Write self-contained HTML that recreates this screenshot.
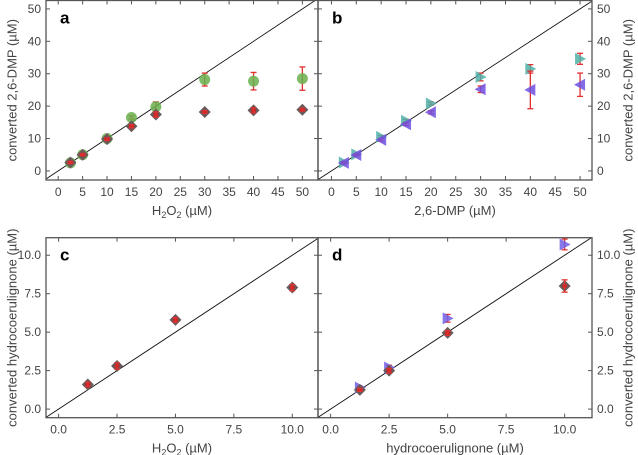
<!DOCTYPE html>
<html><head><meta charset="utf-8"><style>
body{margin:0;background:#fff}
svg{display:block;font-family:"Liberation Sans",sans-serif}
</style></head><body>
<svg id="c" width="638" height="455" viewBox="0 0 638 455"></svg>
<script>
const aX=[2.5,5,10,15,20,30,40,50];
const aGreen=[2.5,5,10,16.5,19.8,28.2,27.7,28.5];
const aGreenErr=[0.3,0.3,0.4,0.5,1.5,2,2.7,3.6];
const aDiamond=[2.6,5,9.8,13.8,17.4,18.2,18.7,18.9];
const aDiamondErr=[0.3,0.3,0.4,0.5,0.8,0.4,0.8,0.4];
const bX=[2.5,5,10,15,20,30,40,50];
const bTeal=[2.6,5.1,10.5,15.5,20.8,29,31.5,34.6];
const bTealErr=[0.3,0.3,0.4,0.4,0.5,1.2,1.3,1.7];
const bPurple=[2.5,4.9,9.6,14.4,18.1,25.2,25,26.6];
const bPurpleErr=[0.3,0.3,0.4,0.4,0.5,1,5.8,3.6];
const cX=[1.25,2.5,5,10];
const cDiamond=[1.6,2.8,5.8,7.9];
const cDiamondErr=[0.15,0.2,0.15,0.2];
const dX=[1.25,2.5,5,10];
const dDiamond=[1.25,2.5,4.95,8.0];
const dDiamondErr=[0.1,0.15,0.15,0.4];
const dPurple=[1.4,2.7,5.9,10.7];
const dPurpleErr=[0.1,0.15,0.25,0.35];
const ticks50=[0,5,10,15,20,25,30,35,40,45,50];
const ticksY50=[0,10,20,30,40,50];
const ticks10=[0,2.5,5,7.5,10];
const ticks10Lab=["0.0","2.5","5.0","7.5","10.0"];

const svg=document.getElementById('c');
const NS='http://www.w3.org/2000/svg';
function el(tag,attrs,parent){const e=document.createElementNS(NS,tag);for(const k in attrs)e.setAttribute(k,attrs[k]);(parent||svg).appendChild(e);return e;}

function panel(name,L,R,T,B,xd,yd,xt,xtl,yt,ytl,side,letter,xtitle,ytitle){
  const g=el('g',{});
  
  
  const sx=v=>L+(v-xd[0])/(xd[1]-xd[0])*(R-L);
  const sy=v=>B-(v-yd[0])/(yd[1]-yd[0])*(B-T);
  const lo=Math.max(xd[0],yd[0]),hi=Math.min(xd[1],yd[1]);
  const dl=el('line',{x1:sx(lo),y1:sy(lo),x2:sx(hi),y2:sy(hi),stroke:'#111','stroke-width':0.9},g);
  
  
  const fr=el('rect',{x:L,y:T,width:R-L,height:B-T,fill:'none',stroke:'#555','stroke-width':1.3},g);
  
  
  xt.forEach((v,i)=>{
    el('line',{x1:sx(v),x2:sx(v),y1:B,y2:B-4,stroke:'#555'},g);
    el('line',{x1:sx(v),x2:sx(v),y1:T,y2:T+4,stroke:'#555'},g);
    const t=el('text',{x:sx(v),y:B+16,'text-anchor':'middle','font-size':12,fill:'#444'},g);
    t.textContent=xtl[i];
    
    
  });
  yt.forEach((v,i)=>{
    el('line',{x1:L,x2:L+4,y1:sy(v),y2:sy(v),stroke:'#555'},g);
    el('line',{x1:R,x2:R-4,y1:sy(v),y2:sy(v),stroke:'#555'},g);
    if(side==='left'){
      const t=el('text',{x:L-5,y:sy(v)+4,'text-anchor':'end','font-size':12,fill:'#444'},g);
      t.textContent=ytl[i];
      
      
    }else{
      const t=el('text',{x:R+5,y:sy(v)+4,'text-anchor':'start','font-size':12,fill:'#444'},g);
      t.textContent=ytl[i];
      
      
    }
  });
  const lt=el('text',{x:L+14,y:T+23,'font-size':17,'font-weight':'bold',fill:'#000'},g);
  lt.textContent=letter;
  
  
  const xtt=el('text',{x:(L+R)/2,y:B+35,'text-anchor':'middle','font-size':13,fill:'#444'},g);
  xtt.innerHTML=xtitle;
  
  
  const yx=side==='left'?12:628;
  const ytt=el('text',{x:yx,y:(T+B)/2,'text-anchor':'middle','font-size':13,fill:'#444',transform:`rotate(-90 ${yx} ${(T+B)/2})`,'dominant-baseline':'central'},g);
  ytt.textContent=ytitle;
  
  
  return {g,sx,sy};
}
function err(p,x,y,e){
  const X=p.sx(x),y1=p.sy(y-e),y2=p.sy(y+e);
  const g=el('g',{stroke:'#e03030','stroke-width':1.3},p.g);
  
  
  el('line',{x1:X,x2:X,y1:y1,y2:y2},g);
  el('line',{x1:X-3,x2:X+3,y1:y1,y2:y1},g);
  el('line',{x1:X-3,x2:X+3,y1:y2,y2:y2},g);
}
function mark(p,type,x,y){
  const X=p.sx(x),Y=p.sy(y);let m;
  if(type==='circle')m=el('circle',{cx:X,cy:Y,r:5.5,fill:'#6ab04c',opacity:0.85},p.g);
  if(type==='diamond'){m=el('polygon',{points:`${X},${Y-6} ${X+6},${Y} ${X},${Y+6} ${X-6},${Y}`,fill:'#6a5a5a'},p.g);
    el('ellipse',{cx:X,cy:Y,rx:2.5,ry:2,fill:'#d42020'},p.g);}
  if(type==='right')m=el('polygon',{points:`${X-5},${Y-6} ${X+6},${Y} ${X-5},${Y+6}`,fill:'#50b0a8',opacity:0.85},p.g);
  if(type==='rightp')m=el('polygon',{points:`${X-5},${Y-6} ${X+6},${Y} ${X-5},${Y+6}`,fill:'#7060e8',opacity:0.85},p.g);
  if(type==='left')m=el('polygon',{points:`${X+5},${Y-6} ${X-6},${Y} ${X+5},${Y+6}`,fill:'#7050e0',opacity:0.85},p.g);
  
  
}
const h2o='H<tspan font-size="9" dy="3">2</tspan><tspan dy="-3">O</tspan><tspan font-size="9" dy="3">2</tspan><tspan dy="-3"> (µM)</tspan>';
const pa=panel('a',46,318,0.5,180,[-2.5,53.2],[-2.8,52.6],ticks50,ticks50.map(String),ticksY50,ticksY50.map(String),'left','a',h2o,'converted 2,6-DMP (µM)');
aX.forEach((x,i)=>{err(pa,x,aGreen[i],aGreenErr[i]);mark(pa,'circle',x,aGreen[i]);});
aX.forEach((x,i)=>{mark(pa,'diamond',x,aDiamond[i]);err(pa,x,aDiamond[i],aDiamondErr[i]);});
const pb=panel('b',318,592,0.5,180,[-2.7,52.4],[-2.8,52.6],ticks50,ticks50.map(String),ticksY50,ticksY50.map(String),'right','b','2,6-DMP (µM)','converted 2,6-DMP (µM)');
bX.forEach((x,i)=>{err(pb,x,bTeal[i],bTealErr[i]);mark(pb,'right',x,bTeal[i]);});
bX.forEach((x,i)=>{err(pb,x,bPurple[i],bPurpleErr[i]);mark(pb,'left',x,bPurple[i]);});
const pc=panel('c',46,318,237.7,417.7,[-0.54,11.1],[-0.56,11.14],ticks10,ticks10Lab,ticks10,ticks10Lab,'left','c',h2o,'converted hydrocoerulignone (µM)');
cX.forEach((x,i)=>{mark(pc,'diamond',x,cDiamond[i]);err(pc,x,cDiamond[i],cDiamondErr[i]);});
const pd=panel('d',318,592,237.7,417.7,[-0.54,11.17],[-0.56,11.14],ticks10,ticks10Lab,ticks10,ticks10Lab,'right','d','hydrocoerulignone (µM)','converted hydrocoerulignone (µM)');
dX.forEach((x,i)=>{err(pd,x,dPurple[i],dPurpleErr[i]);mark(pd,'rightp',x,dPurple[i]);});
dX.forEach((x,i)=>{mark(pd,'diamond',x,dDiamond[i]);err(pd,x,dDiamond[i],dDiamondErr[i]);});
</script>
</body></html>
